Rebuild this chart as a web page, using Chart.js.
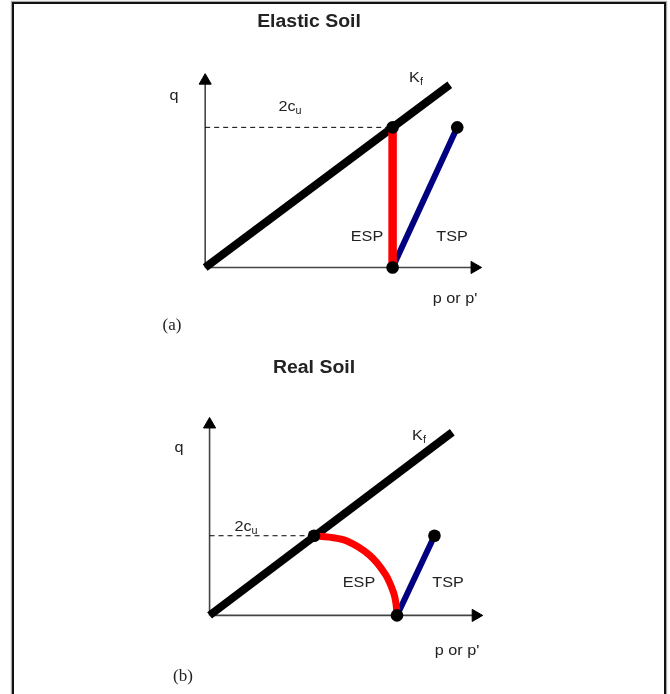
<!DOCTYPE html>
<html>
<head>
<meta charset="utf-8">
<script src="https://cdn.jsdelivr.net/npm/chart.js@4/dist/chart.umd.min.js"></script>
<style>
  html, body { margin: 0; padding: 0; background: #fff; }
  body { width: 670px; height: 694px; position: relative; overflow: hidden; }
  #frame { position: absolute; left: 12px; top: 2px; width: 650px; height: 720px;
           border: 2px solid #111; box-shadow: 0 0 1px 1px #aaa; }
  canvas { position: absolute; left: 0; }
  #cA { top: 0; }
  #cB { top: 347px; }
</style>
</head>
<body>
<div id="frame"></div>
<canvas id="cA" width="670" height="347"></canvas>
<canvas id="cB" width="670" height="347"></canvas>
<script>
// ---------- DATA (p, q in diagram units) ----------
// (a) Elastic soil
const kfA      = [{x:0, y:0}, {x:5.22, y:3.99}];
const espA     = [{x:4, y:0}, {x:4, y:3.06}];
const tspA     = [{x:4, y:0}, {x:5.38, y:3.06}];
const cuLineA  = [{x:0, y:3.06}, {x:4, y:3.06}];
const dotsA    = [{x:4, y:3.06}, {x:4, y:0}, {x:5.38, y:3.06}];
const qAxisA   = [{x:0, y:0}, {x:0, y:4.08}];
const pAxisA   = [{x:0, y:0}, {x:5.75, y:0}];

// (b) Real soil
const kfB      = [{x:0, y:0}, {x:5.18, y:4.0}];
const espB     = [{x:2.23, y:1.74}, {x:2.55, y:1.71}, {x:2.92, y:1.63}, {x:3.41, y:1.32}, {x:3.75, y:0.90},
                  {x:3.93, y:0.49}, {x:3.98, y:0.25}, {x:4.0, y:0}];
const tspB     = [{x:4, y:0}, {x:4.8, y:1.74}];
const cuLineB  = [{x:0, y:1.74}, {x:2.23, y:1.74}];
const dotsB    = [{x:2.23, y:1.74}, {x:4, y:0}, {x:4.8, y:1.74}];
const qAxisB   = [{x:0, y:0}, {x:0, y:4.17}];
const pAxisB   = [{x:0, y:0}, {x:5.68, y:0}];

// text contents
const titles    = ['Elastic Soil', 'Real Soil'];
const panelTags = ['(a)', '(b)'];
const axisY     = 'q';
const axisX     = "p or p'";
const kfText    = ['K', 'f'];
const cuText    = ['2c', 'u'];
const espText   = 'ESP';
const tspText   = 'TSP';

// ---------- LAYOUT ----------
const PX = 48; // pixels per diagram unit
const H = 347;
const originA = {x: 202, y: 272};
const originB = {x: 206.5, y: 273};

const TITLE_FONT = 'bold 18px "Liberation Sans", Arial, sans-serif';
const TAG_FONT = '17px "Liberation Serif", "Times New Roman", serif';

const labelsA = [
  {t: titles[0], x: 309, y: 22, font: TITLE_FONT},
  {t: axisY, x: 174, y: 96},
  {t: cuText, x: 290, y: 107, sub: true},
  {t: kfText, x: 416, y: 78, sub: true},
  {t: espText, x: 367, y: 237},
  {t: tspText, x: 452, y: 237},
  {t: axisX, x: 455, y: 299},
  {t: panelTags[0], x: 172, y: 326, font: TAG_FONT, stretch: 1}
];
const labelsB = [
  {t: titles[1], x: 314, y: 21, font: TITLE_FONT},
  {t: axisY, x: 179, y: 101},
  {t: cuText, x: 246, y: 180, sub: true},
  {t: kfText, x: 419, y: 89, sub: true},
  {t: espText, x: 359, y: 236},
  {t: tspText, x: 448, y: 236},
  {t: axisX, x: 457, y: 304},
  {t: panelTags[1], x: 183, y: 330, font: TAG_FONT, stretch: 1}
];

const BASE_FONT = '15px "Liberation Sans", Arial, sans-serif';
const SUB_FONT = '10px "Liberation Sans", Arial, sans-serif';
const TEXT_COLOR = '#222';

const textPlugin = {
  id: 'texts',
  afterDatasetsDraw(chart, args, opts) {
    const ctx = chart.ctx;
    ctx.save();
    ctx.fillStyle = TEXT_COLOR;
    ctx.textBaseline = 'middle';
    for (const l of opts.items) {
      const stretch = l.stretch || 1.08;
      ctx.save();
      ctx.translate(l.x, l.y);
      ctx.scale(stretch, 1);
      if (l.sub) {
        ctx.font = BASE_FONT;
        const w1 = ctx.measureText(l.t[0]).width;
        ctx.font = SUB_FONT;
        const w2 = ctx.measureText(l.t[1]).width;
        const start = -(w1 + w2) / 2;
        ctx.textAlign = 'left';
        ctx.font = BASE_FONT;
        ctx.fillText(l.t[0], start, 0);
        ctx.font = SUB_FONT;
        ctx.fillText(l.t[1], start + w1, 4);
      } else {
        ctx.font = l.font || BASE_FONT;
        ctx.textAlign = 'center';
        ctx.fillText(l.t, 0, 0);
      }
      ctx.restore();
    }
    ctx.restore();
  }
};

function makeDatasets(d, espWidth) {
  return [
    {data: d.dots, showLine: false, pointRadius: 6.3, pointBackgroundColor: '#000', pointBorderColor: '#000', pointBorderWidth: 0},
    {data: d.esp, showLine: true, borderColor: '#ff0000', borderWidth: espWidth, pointRadius: 0, tension: d.tension, borderCapStyle: 'butt'},
    {data: d.tsp, showLine: true, borderColor: '#000080', borderWidth: 6, pointRadius: 0, borderCapStyle: 'butt'},
    {data: d.kf, showLine: true, borderColor: '#000', borderWidth: 8, pointRadius: 0, borderCapStyle: 'butt'},
    {data: d.cu, showLine: true, borderColor: '#000', borderWidth: 1, borderDash: [5, 4], pointRadius: 0},
    {data: d.qAxis, showLine: true, borderColor: '#444', borderWidth: 1.6, pointStyle: 'triangle', pointRotation: 0,
      pointRadius: [0, 7], pointBackgroundColor: '#000', pointBorderColor: '#000', pointBorderWidth: 1},
    {data: d.pAxis, showLine: true, borderColor: '#444', borderWidth: 1.6, pointStyle: 'triangle', pointRotation: 90,
      pointRadius: [0, 7], pointBackgroundColor: '#000', pointBorderColor: '#000', pointBorderWidth: 1}
  ];
}

function makeChart(id, d, origin, labels, espWidth) {
  return new Chart(document.getElementById(id), {
    type: 'scatter',
    data: {datasets: makeDatasets(d, espWidth)},
    options: {
      responsive: false,
      animation: false,
      events: [],
      devicePixelRatio: 1,
      layout: {padding: 0},
      scales: {
        x: {type: 'linear', display: false, min: -origin.x / PX, max: (670 - origin.x) / PX},
        y: {type: 'linear', display: false, min: -(H - origin.y) / PX, max: origin.y / PX}
      },
      plugins: {
        legend: {display: false},
        tooltip: {enabled: false},
        texts: {items: labels}
      }
    },
    plugins: [textPlugin]
  });
}

makeChart('cA', {dots: dotsA, esp: espA, tsp: tspA, kf: kfA, cu: cuLineA, qAxis: qAxisA, pAxis: pAxisA, tension: 0},
  originA, labelsA, 8.5);
makeChart('cB', {dots: dotsB, esp: espB, tsp: tspB, kf: kfB, cu: cuLineB, qAxis: qAxisB, pAxis: pAxisB, tension: 0.35},
  originB, labelsB, 7);
</script>
</body>
</html>
